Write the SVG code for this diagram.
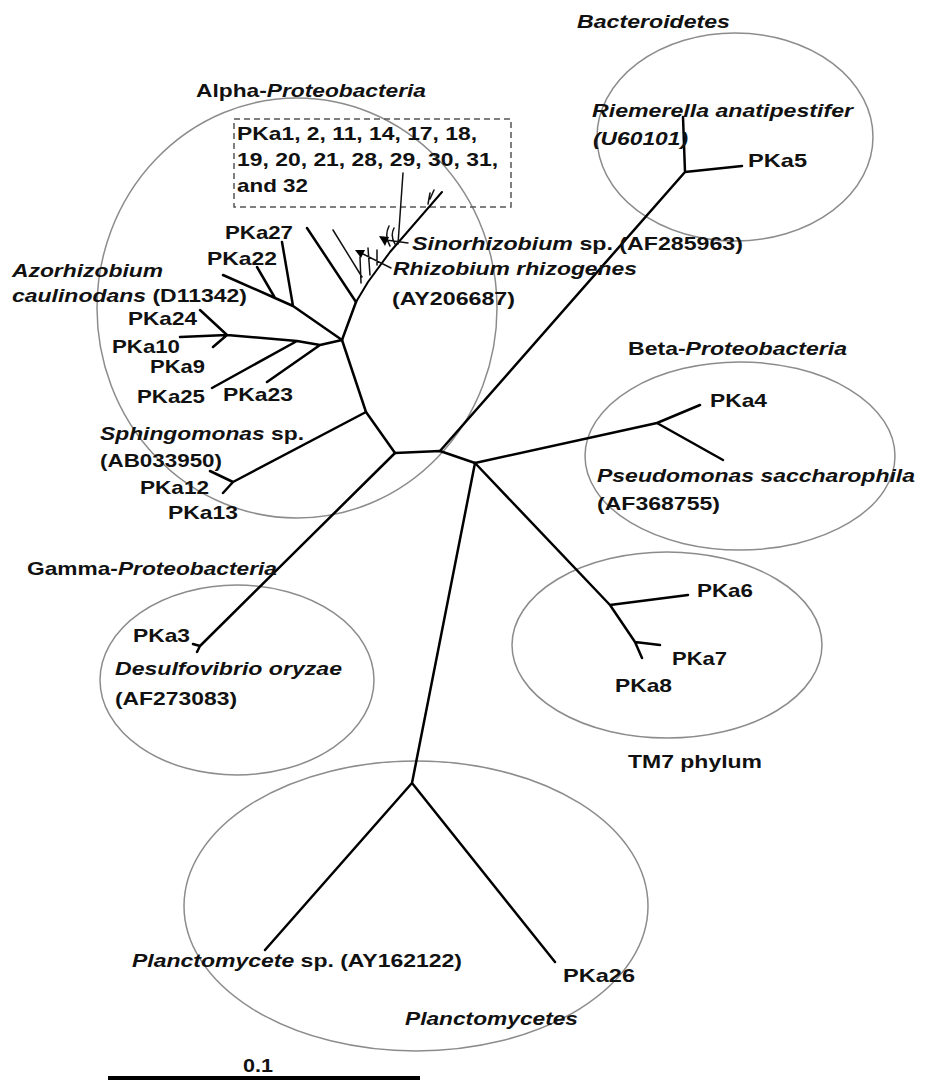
<svg xmlns="http://www.w3.org/2000/svg" width="928" height="1080" viewBox="0 0 928 1080">
<style>
.t{font-family:"Liberation Sans",Arial,sans-serif;font-weight:bold;font-size:19px;fill:#111}
.i{font-style:italic}
.br{stroke:#000;stroke-width:2.5;fill:none;stroke-linecap:round;stroke-linejoin:round}
.th{stroke:#111;stroke-width:1.5;fill:none;stroke-linecap:round}
.ell{fill:none;stroke:#8c8c8c;stroke-width:1.5}
</style>
<rect width="928" height="1080" fill="#fff"/>
<g id="clusters">
<ellipse id="alpha-ellipse" class="ell" cx="297" cy="308" rx="200" ry="210"/>
<ellipse id="bacteroidetes-ellipse" class="ell" cx="735" cy="137" rx="138" ry="104"/>
<ellipse id="beta-ellipse" class="ell" cx="740" cy="456" rx="155" ry="94"/>
<ellipse id="tm7-ellipse" class="ell" cx="667" cy="645" rx="155" ry="93"/>
<ellipse id="gamma-ellipse" class="ell" cx="237" cy="680" rx="137" ry="95"/>
<ellipse id="plancto-ellipse" class="ell" cx="416" cy="906" rx="232" ry="145"/>
<rect id="pka-box" x="234" y="119" width="277" height="88" fill="none" stroke="#555" stroke-width="1.5" stroke-dasharray="6,4"/>
</g>
<g id="connectors">
<path class="br" d="M395 453 L440 451 L475 463"/>
<path class="br" d="M395 453 L366 412 L342 340 L356 302"/>
<path class="br" d="M395 453 L200 646 M200 646 L193 644 M200 646 L197 652"/>
<path class="br" d="M440 451 L685 172 M685 172 L742 166 M685 172 L683 117"/>
<path class="br" d="M475 463 L657 423 M657 423 L700 405 M657 423 L723 460"/>
<path class="br" d="M475 463 L610 605 M610 605 L688 595 M610 605 L635 642 M635 642 L660 645 M635 642 L642 658"/>
<path class="br" d="M475 463 L412 783 M412 783 L265 950 M412 783 L555 962"/>
<path class="br" d="M366 412 L233 482 M233 482 L210 471 M233 482 L223 493"/>
<path class="br" d="M342 340 L293 306 M293 306 L282 242 M293 306 L275 298 M275 298 L257 267 M275 298 L223 275"/>
<path class="br" d="M342 340 L320 345 M320 345 L267 382 M320 345 L297 341 M297 341 L212 388 M297 341 L227 335 M227 335 L200 310 M227 335 L180 337 M227 335 L213 347"/>
<path class="br" d="M356 302 L307 228"/>
<path class="br" style="stroke-width:2" d="M356 302 L368 282 L390 252 L442 192"/>
<path class="th" d="M398 244 L403 173 M333 230 L362 277 M360 257 L361 283 M368 248 L370 275 M377 250 L377 265 M428 204 L430 193 M430 199 L434 190 M361 253 L391 268 M386 240 L408 243 M389 226 Q384 236 390 246 M394 228 Q390 236 395 244"/>
<polygon points="379,236 389,237 385,246" fill="#000"/>
<polygon points="355,250 365,250 361,258" fill="#000"/>
<path id="scale-bar" d="M108 1078 L420 1078" stroke="#000" stroke-width="4"/>
</g>
<g id="group-labels">
<text class="t" x="196" y="97" textLength="230" lengthAdjust="spacingAndGlyphs">Alpha-<tspan class="i">Proteobacteria</tspan></text>
<text class="t" x="628" y="355" textLength="219" lengthAdjust="spacingAndGlyphs">Beta-<tspan class="i">Proteobacteria</tspan></text>
<text class="t" x="27" y="575" textLength="250" lengthAdjust="spacingAndGlyphs">Gamma-<tspan class="i">Proteobacteria</tspan></text>
<text class="t i" x="577" y="28" textLength="153" lengthAdjust="spacingAndGlyphs">Bacteroidetes</text>
<text class="t" x="628" y="768" textLength="134" lengthAdjust="spacingAndGlyphs">TM7 phylum</text>
<text class="t i" x="405" y="1025" textLength="173" lengthAdjust="spacingAndGlyphs">Planctomycetes</text>
<text class="t" x="243" y="1072" textLength="30" lengthAdjust="spacingAndGlyphs">0.1</text>
</g>
<g id="node-pka-box">
<text class="t" x="237" y="140" textLength="240" lengthAdjust="spacingAndGlyphs">PKa1, 2, 11, 14, 17, 18,</text>
<text class="t" x="237" y="166" textLength="261" lengthAdjust="spacingAndGlyphs">19, 20, 21, 28, 29, 30, 31,</text>
<text class="t" x="237" y="192" textLength="71" lengthAdjust="spacingAndGlyphs">and 32</text>
</g>
<g id="node-riemerella">
<text class="t i" x="592" y="117" textLength="261" lengthAdjust="spacingAndGlyphs">Riemerella anatipestifer</text>
<text class="t i" x="593" y="145" textLength="95" lengthAdjust="spacingAndGlyphs">(U60101)</text>
</g>
<g id="node-pka5"><text class="t" x="748" y="167" textLength="59" lengthAdjust="spacingAndGlyphs">PKa5</text></g>
<g id="node-sinorhizobium"><text class="t" x="412" y="250" textLength="331" lengthAdjust="spacingAndGlyphs"><tspan class="i">Sinorhizobium</tspan>  sp. (AF285963)</text></g>
<g id="node-rhizobium">
<text class="t i" x="393" y="275" textLength="244" lengthAdjust="spacingAndGlyphs">Rhizobium rhizogenes</text>
<text class="t" x="392" y="305" textLength="123" lengthAdjust="spacingAndGlyphs">(AY206687)</text>
</g>
<g id="node-pka27"><text class="t" x="225" y="239" textLength="68" lengthAdjust="spacingAndGlyphs">PKa27</text></g>
<g id="node-pka22"><text class="t" x="207" y="265" textLength="70" lengthAdjust="spacingAndGlyphs">PKa22</text></g>
<g id="node-azorhizobium">
<text class="t i" x="12" y="277" textLength="151" lengthAdjust="spacingAndGlyphs">Azorhizobium</text>
<text class="t" x="12" y="302" textLength="235" lengthAdjust="spacingAndGlyphs"><tspan class="i">caulinodans</tspan> (D11342)</text>
</g>
<g id="node-pka24"><text class="t" x="128" y="325" textLength="69" lengthAdjust="spacingAndGlyphs">PKa24</text></g>
<g id="node-pka10"><text class="t" x="112" y="353" textLength="68" lengthAdjust="spacingAndGlyphs">PKa10</text></g>
<g id="node-pka9"><text class="t" x="150" y="373" textLength="55" lengthAdjust="spacingAndGlyphs">PKa9</text></g>
<g id="node-pka25"><text class="t" x="137" y="403" textLength="68" lengthAdjust="spacingAndGlyphs">PKa25</text></g>
<g id="node-pka23"><text class="t" x="223" y="401" textLength="70" lengthAdjust="spacingAndGlyphs">PKa23</text></g>
<g id="node-sphingomonas">
<text class="t" x="100" y="440" textLength="204" lengthAdjust="spacingAndGlyphs"><tspan class="i">Sphingomonas</tspan> sp.</text>
<text class="t" x="100" y="467" textLength="122" lengthAdjust="spacingAndGlyphs">(AB033950)</text>
</g>
<g id="node-pka12"><text class="t" x="140" y="494" textLength="69" lengthAdjust="spacingAndGlyphs">PKa12</text></g>
<g id="node-pka13"><text class="t" x="168" y="519" textLength="70" lengthAdjust="spacingAndGlyphs">PKa13</text></g>
<g id="node-pka4"><text class="t" x="710" y="407" textLength="57" lengthAdjust="spacingAndGlyphs">PKa4</text></g>
<g id="node-pseudomonas">
<text class="t i" x="597" y="482" textLength="318" lengthAdjust="spacingAndGlyphs">Pseudomonas saccharophila</text>
<text class="t" x="597" y="510" textLength="123" lengthAdjust="spacingAndGlyphs">(AF368755)</text>
</g>
<g id="node-pka6"><text class="t" x="697" y="597" textLength="56" lengthAdjust="spacingAndGlyphs">PKa6</text></g>
<g id="node-pka7"><text class="t" x="672" y="665" textLength="55" lengthAdjust="spacingAndGlyphs">PKa7</text></g>
<g id="node-pka8"><text class="t" x="615" y="692" textLength="57" lengthAdjust="spacingAndGlyphs">PKa8</text></g>
<g id="node-pka3"><text class="t" x="133" y="642" textLength="57" lengthAdjust="spacingAndGlyphs">PKa3</text></g>
<g id="node-desulfovibrio">
<text class="t i" x="115" y="675" textLength="227" lengthAdjust="spacingAndGlyphs">Desulfovibrio oryzae</text>
<text class="t" x="115" y="705" textLength="122" lengthAdjust="spacingAndGlyphs">(AF273083)</text>
</g>
<g id="node-planctomycete"><text class="t" x="132" y="967" textLength="330" lengthAdjust="spacingAndGlyphs"><tspan class="i">Planctomycete</tspan> sp. (AY162122)</text></g>
<g id="node-pka26"><text class="t" x="563" y="982" textLength="72" lengthAdjust="spacingAndGlyphs">PKa26</text></g>
</svg>
